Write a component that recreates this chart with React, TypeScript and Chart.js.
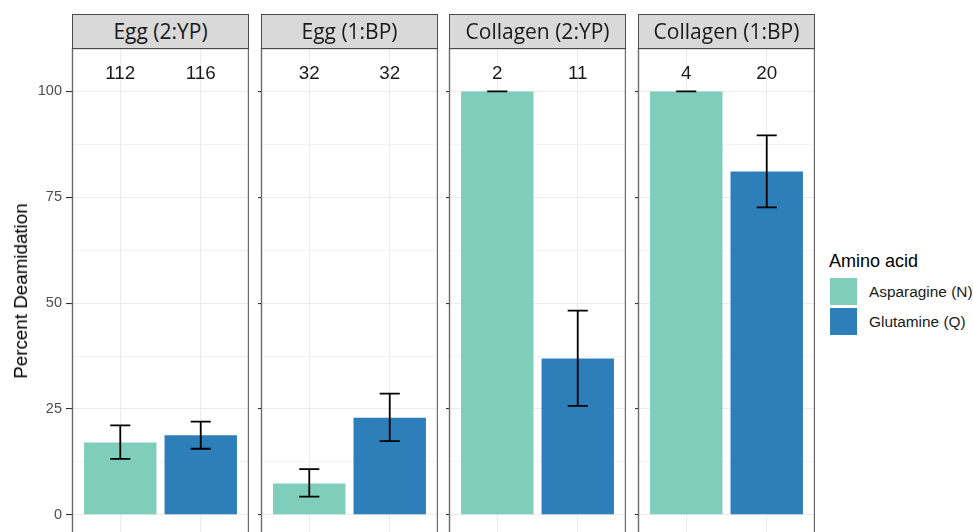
import React, { useEffect, useRef } from "react";
import { Chart, registerables } from "chart.js";
Chart.register(...registerables);

const facets = ["Egg (2:YP)", "Egg (1:BP)", "Collagen (2:YP)", "Collagen (1:BP)"];
const aminoAcids = ["Asparagine (N)", "Glutamine (Q)"];
const asparagineMean = [17.1, 7.4, 100, 100];
const asparagineLow = [13.2, 4.3, 100, 100];
const asparagineHigh = [21.1, 10.8, 100, 100];
const glutamineMean = [18.8, 22.9, 36.9, 81.1];
const glutamineLow = [15.6, 17.4, 25.7, 72.6];
const glutamineHigh = [22.0, 28.6, 48.2, 89.6];
const asparagineCount = [112, 32, 2, 4];
const glutamineCount = [116, 32, 11, 20];
const yTicks = [0, 25, 50, 75, 100];
const yMinorTicks = [12.5, 37.5, 62.5, 87.5];
const countLabelY = 104.5;

const COLORS = ["#7fcdbb", "#2c7fb8"];
const PANEL_LEFTS = [72, 261, 449, 638];
const PANEL_W = 177;
const PANEL_TOP = 48;
const PANEL_H = 489;
const SANS = '"Liberation Sans", Arial, sans-serif';

function Panel({ index }: { index: number }) {
  const ref = useRef<HTMLCanvasElement | null>(null);
  const first = index === 0;
  const axisW = first ? 72 : 5;
  const tickLen = first ? 6 : 3;
  useEffect(() => {
    if (!ref.current) return;
    const means = [asparagineMean[index], glutamineMean[index]];
    const lows = [asparagineLow[index], glutamineLow[index]];
    const highs = [asparagineHigh[index], glutamineHigh[index]];
    const counts = [asparagineCount[index], glutamineCount[index]];
    const overlay = {
      id: "overlay" + index,
      afterDatasetsDraw(chart: any) {
        const ctx = chart.ctx;
        const xs = chart.scales.x;
        const ys = chart.scales.y;
        const half = xs.getPixelForValue(1.125) - xs.getPixelForValue(1);
        ctx.save();
        ctx.strokeStyle = "#000";
        ctx.lineWidth = 1.8;
        for (let i = 0; i < 2; i++) {
          const px = xs.getPixelForValue(i + 1);
          const yl = ys.getPixelForValue(lows[i]);
          const yh = ys.getPixelForValue(highs[i]);
          ctx.beginPath();
          ctx.moveTo(px, yl);
          ctx.lineTo(px, yh);
          ctx.moveTo(px - half, yl);
          ctx.lineTo(px + half, yl);
          ctx.moveTo(px - half, yh);
          ctx.lineTo(px + half, yh);
          ctx.stroke();
        }
        ctx.fillStyle = "#1a1a1a";
        ctx.font = "18.8px " + SANS;
        ctx.textAlign = "center";
        ctx.textBaseline = "alphabetic";
        for (let i = 0; i < 2; i++) {
          const px = xs.getPixelForValue(i + 1);
          const py = ys.getPixelForValue(countLabelY) + 6.6;
          ctx.fillText(String(counts[i]), px, py);
        }
        ctx.restore();
      },
      afterDraw(chart: any) {
        const a = chart.chartArea;
        const ctx = chart.ctx;
        ctx.save();
        ctx.strokeStyle = "#6a6a6a";
        ctx.lineWidth = 1.4;
        ctx.strokeRect(a.left + 0.5, a.top + 0.5, a.right - a.left - 1, a.bottom - a.top - 1);
        ctx.restore();
      },
    };
    const chart = new Chart(ref.current, {
      type: "bar",
      data: {
        datasets: [
          {
            data: [
              { x: 1, y: means[0] },
              { x: 2, y: means[1] },
            ],
            backgroundColor: COLORS,
            borderWidth: 0,
            barPercentage: 0.9,
            categoryPercentage: 1,
          },
        ],
      },
      options: {
        animation: false,
        responsive: false,
        maintainAspectRatio: false,
        layout: { padding: 0 },
        plugins: { legend: { display: false }, tooltip: { enabled: false }, title: { display: false } },
        scales: {
          x: {
            type: "linear",
            min: 0.4,
            max: 2.6,
            offset: false,
            grid: { offset: false, color: "#ebebeb", lineWidth: 1.1, drawTicks: false },
            border: { display: false },
            ticks: { display: false },
            afterBuildTicks: (s: any) => {
              s.ticks = [{ value: 1 }, { value: 2 }];
            },
            afterFit: (s: any) => {
              s.height = 0;
              s.paddingLeft = 0;
              s.paddingRight = 0;
            },
          },
          y: {
            type: "linear",
            min: -5.25,
            max: 110.25,
            grid: {
              color: "#ebebeb",
              lineWidth: (c: any) => (c.tick && c.tick.value % 25 === 0 ? 1.1 : 0.6),
              tickColor: (c: any) => (c.tick && c.tick.value % 25 === 0 ? "#333333" : "rgba(0,0,0,0)"),
              tickLength: tickLen,
              tickWidth: 1.1,
              drawTicks: true,
            },
            border: { display: false },
            ticks: {
              display: first,
              padding: 4,
              color: "#4d4d4d",
              font: { family: SANS, size: 14.5 },
              callback: (v: any) => (Number(v) % 25 === 0 ? String(v) : ""),
            },
            afterBuildTicks: (s: any) => {
              s.ticks = [...yTicks, ...yMinorTicks].sort((a, b) => a - b).map((v) => ({ value: v }));
            },
            afterFit: (s: any) => {
              s.width = axisW;
              s.paddingTop = 0;
              s.paddingBottom = 0;
            },
          },
        },
      },
      plugins: [overlay],
    } as any);
    return () => chart.destroy();
  }, [index]);
  return (
    <canvas
      ref={ref}
      width={PANEL_W + axisW}
      height={PANEL_H}
      style={{ position: "absolute", left: PANEL_LEFTS[index] - axisW, top: PANEL_TOP, width: PANEL_W + axisW, height: PANEL_H }}
    />
  );
}

export default function App() {
  return (
    <div
      style={{
        position: "absolute",
        left: 0,
        top: 0,
        width: 973,
        height: 532,
        overflow: "hidden",
        background: "#fff",
        fontFamily: SANS,
      }}
    >
      {facets.map((f, i) => (
        <Panel key={"p" + i} index={i} />
      ))}
      {facets.map((f, i) => (
        <div
          key={"s" + i}
          style={{
            position: "absolute",
            left: PANEL_LEFTS[i],
            top: 14,
            width: PANEL_W,
            height: 35,
            boxSizing: "border-box",
            background: "#d9d9d9",
            border: "1.4px solid #4a4a4a",
            fontFamily: '"Open Sans", sans-serif',
            fontSize: 21,
            color: "#1a1a1a",
            display: "flex",
            alignItems: "center",
            justifyContent: "center",
            lineHeight: 1,
          }}
        >
          {f}
        </div>
      ))}
      <div
        style={{
          position: "absolute",
          left: 21,
          top: 291,
          transform: "translate(-50%, -50%) rotate(-90deg)",
          whiteSpace: "nowrap",
          fontSize: 18.8,
          color: "#000",
        }}
      >
        Percent Deamidation
      </div>
      <div style={{ position: "absolute", left: 829, top: 250, fontSize: 18, color: "#000", lineHeight: "22px" }}>
        Amino acid
      </div>
      {aminoAcids.map((a, i) => (
        <React.Fragment key={"l" + i}>
          <div
            style={{
              position: "absolute",
              left: 830,
              top: 278 + i * 30,
              width: 27,
              height: 27,
              background: COLORS[i],
            }}
          />
          <div
            style={{
              position: "absolute",
              left: 869,
              top: 282 + i * 30,
              fontSize: 15.4,
              lineHeight: "20px",
              color: "#1a1a1a",
              whiteSpace: "nowrap",
            }}
          >
            {a}
          </div>
        </React.Fragment>
      ))}
    </div>
  );
}
